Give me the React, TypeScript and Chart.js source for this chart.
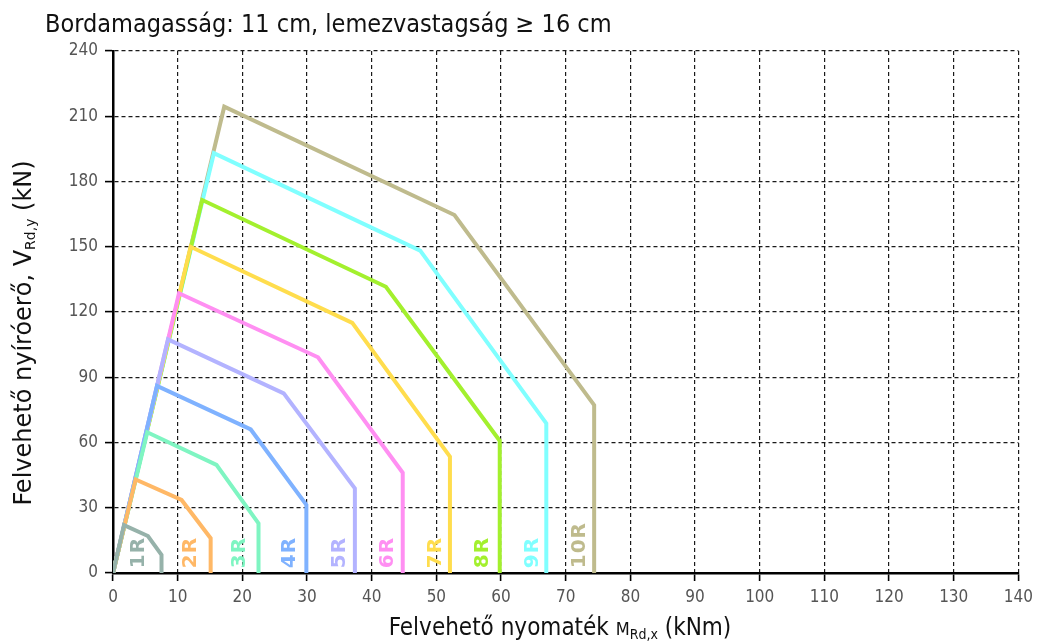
import { useEffect, useRef } from "react";
import { Chart, registerables } from "chart.js";

Chart.register(...registerables);

// Interaction envelopes per reinforcement layout (M in kNm, V in kN)
const seriesNames = ["1R", "2R", "3R", "4R", "5R", "6R", "7R", "8R", "9R", "10R"];
const seriesColors = [
  "#96b2aa", "#ffb866", "#7ff5c2", "#7fb2ff", "#b3b3ff",
  "#ff8ff2", "#ffdd4d", "#a3f02e", "#80ffff", "#bfbb8d",
];

const r1M = [0, 1.7, 5.4, 7.5, 7.5];
const r1V = [0, 22, 17, 8.3, 0];
const r2M = [0, 3.5, 10.6, 15.1, 15.1];
const r2V = [0, 43, 33.6, 16, 0];
const r3M = [0, 5.3, 16.0, 22.5, 22.5];
const r3V = [0, 64.7, 49.7, 22.8, 0];
const r4M = [0, 6.8, 21.3, 29.9, 29.9];
const r4V = [0, 86, 66, 31.3, 0];
const r5M = [0, 8.5, 26.4, 37.4, 37.4];
const r5V = [0, 107.4, 82.6, 38.9, 0];
const r6M = [0, 10.2, 31.7, 44.8, 44.8];
const r6V = [0, 128.6, 99.2, 46.1, 0];
const r7M = [0, 12.0, 37.0, 52.1, 52.1];
const r7V = [0, 150, 115, 53.5, 0];
const r8M = [0, 13.8, 42.2, 59.8, 59.8];
const r8V = [0, 171.5, 131.6, 60.8, 0];
const r9M = [0, 15.6, 47.5, 67.0, 67.0];
const r9V = [0, 193, 148.2, 68.8, 0];
const r10M = [0, 17.2, 52.8, 74.4, 74.4];
const r10V = [0, 214.4, 164.6, 77.2, 0];

const seriesM = [r1M, r2M, r3M, r4M, r5M, r6M, r7M, r8M, r9M, r10M];
const seriesV = [r1V, r2V, r3V, r4V, r5V, r6V, r7V, r8V, r9V, r10V];

// Where each series name sits along the moment axis
const nameM = [3.9, 11.8, 19.5, 27.2, 34.9, 42.3, 49.8, 57.0, 64.7, 72.0];
const nameV = 2.2;

const xTicks = [0, 10, 20, 30, 40, 50, 60, 70, 80, 90, 100, 110, 120, 130, 140];
const yTicks = [0, 30, 60, 90, 120, 150, 180, 210, 240];

const titleText = "Bordamagasság: 11 cm, lemezvastagság ≥ 16 cm";
const FONT = "'DejaVu Sans', Verdana, sans-serif";
const NARROW = "'DejaVu Sans Condensed', 'DejaVu Sans', sans-serif";

type Part = { t: string; size: number; dy: number };

function drawParts(
  ctx: CanvasRenderingContext2D,
  parts: Part[],
  family: string,
  x: number,
  y: number
) {
  let total = 0;
  for (const p of parts) {
    ctx.font = `${p.size}px ${family}`;
    total += ctx.measureText(p.t).width;
  }
  let cx = x - total / 2;
  for (const p of parts) {
    ctx.font = `${p.size}px ${family}`;
    ctx.fillText(p.t, cx, y + p.dy);
    cx += ctx.measureText(p.t).width;
  }
}

const textPlugin = {
  id: "chartTexts",
  afterDatasetsDraw(chart: any) {
    const ctx: CanvasRenderingContext2D = chart.ctx;
    const xs = chart.scales.x;
    const ys = chart.scales.y;
    seriesNames.forEach((name, i) => {
      const px = xs.getPixelForValue(nameM[i]);
      const py = ys.getPixelForValue(nameV);
      ctx.save();
      ctx.translate(px, py);
      ctx.rotate(-Math.PI / 2);
      ctx.font = `bold 20px ${FONT}`;
      (ctx as any).letterSpacing = "1px";
      ctx.textAlign = "left";
      ctx.textBaseline = "middle";
      ctx.fillStyle = seriesColors[i];
      ctx.fillText(name, 0, 1);
      ctx.restore();
    });
  },
  afterDraw(chart: any) {
    const ctx: CanvasRenderingContext2D = chart.ctx;
    ctx.save();
    ctx.fillStyle = "#111";
    ctx.textAlign = "left";
    ctx.textBaseline = "alphabetic";
    ctx.font = `25px ${NARROW}`;
    ctx.fillText(titleText, 45, 32);

    drawParts(
      ctx,
      [
        { t: "Felvehető nyomaték ", size: 24, dy: 0 },
        { t: "M", size: 18, dy: 0 },
        { t: "Rd,x", size: 14, dy: 4 },
        { t: " (kNm)", size: 24, dy: 0 },
      ],
      NARROW,
      560,
      635
    );

    ctx.translate(31, 333);
    ctx.rotate(-Math.PI / 2);
    drawParts(
      ctx,
      [
        { t: "Felvehető nyíróerő, V", size: 24, dy: 0 },
        { t: "Rd,y", size: 14, dy: 4 },
        { t: " (kN)", size: 24, dy: 0 },
      ],
      FONT,
      0,
      0
    );
    ctx.restore();
  },
};

export default function App() {
  const ref = useRef<HTMLCanvasElement | null>(null);

  useEffect(() => {
    if (!ref.current) return;
    const datasets = seriesNames.map((name, i) => ({
      label: name,
      data: seriesM[i].map((m, k) => ({ x: m, y: seriesV[i][k] })),
      borderColor: seriesColors[i],
      backgroundColor: seriesColors[i],
      borderWidth: 4,
      pointRadius: 0,
      showLine: true,
      fill: false,
      tension: 0,
      borderJoinStyle: "miter" as const,
    }));

    const gridOpts = {
      color: "#1a1a1a",
      lineWidth: 1.2,
      drawTicks: true,
      tickLength: 8,
      tickColor: "#000",
      tickWidth: 1.6,
      tickBorderDash: [],
    };
    const borderOpts = { display: true, color: "#000", width: 2.5, dash: [4, 3] };

    const chart = new Chart(ref.current, {
      type: "scatter",
      data: { datasets },
      plugins: [textPlugin],
      options: {
        animation: false,
        responsive: false,
        layout: { padding: { left: 0, top: 51, right: 16, bottom: 0 } },
        plugins: { legend: { display: false }, tooltip: { enabled: false } },
        scales: {
          x: {
            type: "linear",
            min: 0,
            max: 140,
            afterBuildTicks: (s: any) => {
              s.ticks = xTicks.map((v) => ({ value: v }));
            },
            afterFit: (s: any) => {
              s.height = 70;
            },
            grid: gridOpts,
            border: borderOpts,
            ticks: {
              color: "#555",
              font: { family: NARROW, size: 17 },
              padding: 6,
              maxRotation: 0,
            },
          },
          y: {
            type: "linear",
            min: 0,
            max: 240,
            afterBuildTicks: (s: any) => {
              s.ticks = yTicks.map((v) => ({ value: v }));
            },
            afterFit: (s: any) => {
              s.width = 113;
            },
            grid: gridOpts,
            border: borderOpts,
            ticks: {
              color: "#555",
              font: { family: NARROW, size: 17 },
              padding: 7,
            },
          },
        },
      },
    });
    return () => chart.destroy();
  }, []);

  return (
    <canvas
      ref={ref}
      width={1039}
      height={643}
      style={{ position: "absolute", left: 0, top: 0, width: 1039, height: 643, background: "#fff" }}
    />
  );
}
